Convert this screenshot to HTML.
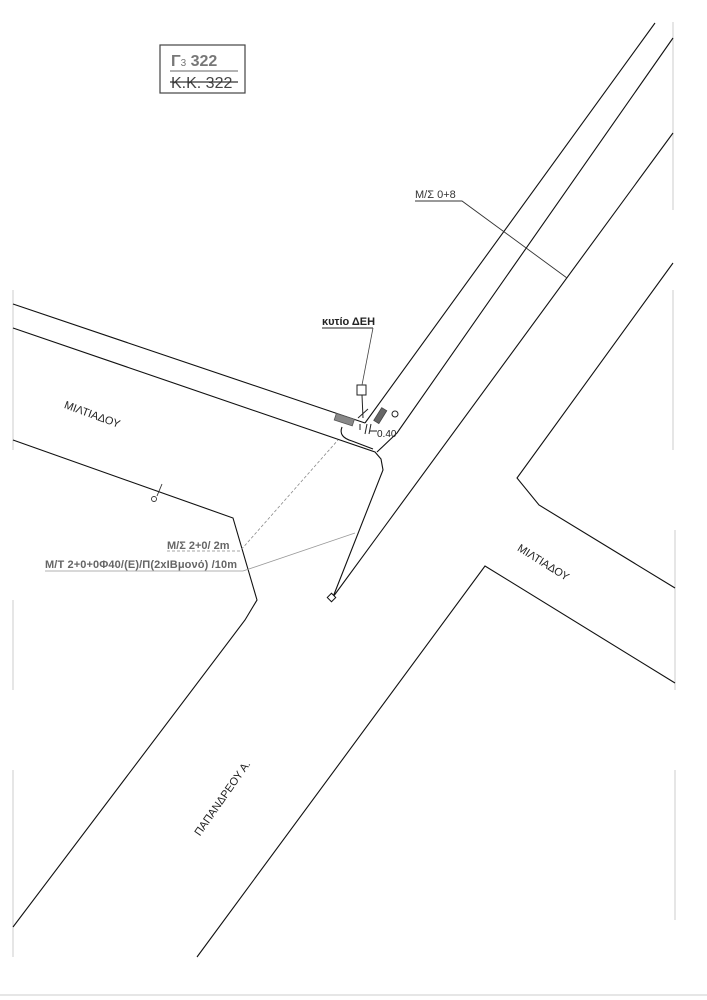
<!DOCTYPE html>
<html><head><meta charset="utf-8"><style>
html,body{margin:0;padding:0;background:#fff;}
svg{display:block;}
text{font-family:"Liberation Sans",sans-serif;}
</style></head><body>
<svg width="707" height="1000" viewBox="0 0 707 1000" xmlns="http://www.w3.org/2000/svg">
<rect width="707" height="1000" fill="#fff"/>
<g stroke="#ddd" stroke-width="1.5">
<line x1="673" y1="22" x2="673" y2="210"/>
<line x1="673" y1="290" x2="673" y2="450"/>
<line x1="675" y1="530" x2="675" y2="690"/>
<line x1="675" y1="770" x2="675" y2="920"/>
<line x1="13" y1="290" x2="13" y2="450"/>
<line x1="13" y1="600" x2="13" y2="690"/>
<line x1="13" y1="770" x2="13" y2="957"/>
<line x1="0" y1="995" x2="707" y2="995"/>
</g>
<rect x="160" y="45" width="85" height="48" fill="none" stroke="#444" stroke-width="1.2"/>
<text x="171" y="66" font-size="16" font-weight="bold" fill="#777">Γ<tspan font-size="10" font-weight="normal">3</tspan> 322</text>
<line x1="170" y1="71" x2="238" y2="71" stroke="#666" stroke-width="1"/>
<text x="171" y="88" font-size="16" fill="#444">Κ.Κ. 322</text>
<line x1="170" y1="82" x2="238" y2="82" stroke="#333" stroke-width="1.2"/>

<g fill="none" stroke="#111" stroke-width="1.1">
<line x1="655" y1="23" x2="365" y2="423"/>
<polyline points="673,38 397,433 377,452"/>
<polyline points="673,133 333,597"/>
<polyline points="673,263 517,478 539,505 675,588"/>
<polyline points="675,683 485,566 197,957"/>
<polyline points="13,304 365,423"/>
<polyline points="13,328 375,452 381,459 383,470 333,597"/>
<polyline points="13,440 233,518 257,600 245,620 13,927"/>
<path d="M342,427 Q338,437 352,441 L373,449"/>
</g>
<rect x="328.5" y="594.5" width="6" height="6" fill="#fff" stroke="#111" stroke-width="1" transform="rotate(45 331.5 597.5)"/>
<rect x="335" y="416" width="19" height="7" fill="#888" stroke="#555" stroke-width="0.8" transform="rotate(18 344 419)"/>
<rect x="373" y="413" width="15" height="6" fill="#666" stroke="#444" stroke-width="0.8" transform="rotate(-58 380 416)"/>
<circle cx="395" cy="414" r="3" fill="none" stroke="#222" stroke-width="1"/>
<rect x="357" y="385" width="9" height="10" fill="#fff" stroke="#222" stroke-width="1"/>
<g stroke="#222" stroke-width="1" fill="none">
<line x1="362" y1="395" x2="363" y2="418"/>
<line x1="358" y1="418" x2="368" y2="409"/>
<line x1="360" y1="424" x2="360" y2="430"/>
<line x1="367" y1="424" x2="365" y2="434"/>
<line x1="371" y1="424" x2="369" y2="434"/>
<line x1="370" y1="431" x2="377" y2="431"/>
</g>
<text x="377" y="437" font-size="10" fill="#222">0.40</text>
<text x="322" y="325" font-size="11" font-weight="bold" fill="#222">κυτίο ΔΕΗ</text>
<line x1="322" y1="328" x2="373" y2="328" stroke="#222" stroke-width="1"/>
<line x1="373" y1="328" x2="362" y2="385" stroke="#444" stroke-width="0.8"/>
<text x="415" y="198" font-size="11" fill="#333">Μ/Σ 0+8</text>
<polyline points="415,201 462,201 567,278" fill="none" stroke="#333" stroke-width="0.9"/>
<circle cx="154" cy="499" r="2.5" fill="none" stroke="#333" stroke-width="0.9"/>
<line x1="157" y1="496" x2="162" y2="484" stroke="#333" stroke-width="0.9"/>
<text x="167" y="549" font-size="11" font-weight="bold" fill="#666">Μ/Σ 2+0/ 2m</text>
<polyline points="167,551 240,551 338,440" fill="none" stroke="#888" stroke-width="0.8" stroke-dasharray="3,2"/>
<text x="45" y="568" font-size="11" font-weight="bold" fill="#666" textLength="192">Μ/Τ 2+0+0Φ40/(Ε)/Π(2xΙΒμονό) /10m</text>
<polyline points="45,571 243,571 355,533" fill="none" stroke="#999" stroke-width="0.8"/>
<text x="92" y="418" font-size="11" fill="#222" text-anchor="middle" transform="rotate(20 92 415)">ΜΙΛΤΙΑΔΟΥ</text>
<text x="543" y="566" font-size="11" fill="#222" text-anchor="middle" transform="rotate(32 543 563)">ΜΙΛΤΙΑΔΟΥ</text>
<text x="222" y="802" font-size="11" fill="#222" text-anchor="middle" transform="rotate(-55 222 798)">ΠΑΠΑΝΔΡΕΟΥ Α.</text>
</svg>
</body></html>
